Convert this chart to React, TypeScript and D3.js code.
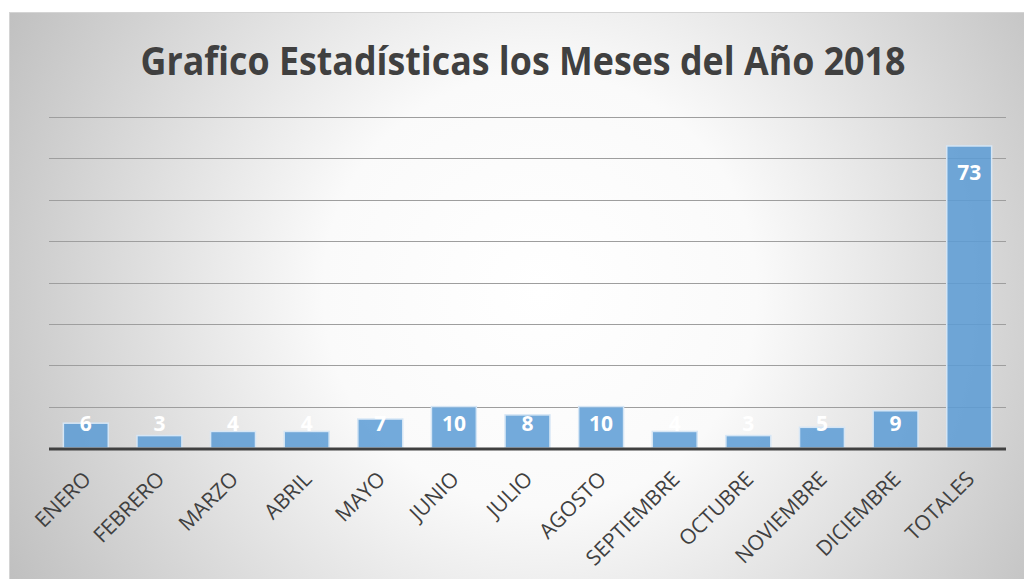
import React, { useEffect, useRef } from 'react';
import * as d3 from 'd3';

const months = ['ENERO', 'FEBRERO', 'MARZO', 'ABRIL', 'MAYO', 'JUNIO', 'JULIO', 'AGOSTO', 'SEPTIEMBRE', 'OCTUBRE', 'NOVIEMBRE', 'DICIEMBRE', 'TOTALES'];
const counts = [6, 3, 4, 4, 7, 10, 8, 10, 4, 3, 5, 9, 73];
const gridTicks = [10, 20, 30, 40, 50, 60, 70, 80];
const title = 'Grafico Estadísticas los Meses del Año 2018';

const W = 1024;
const H = 579;

export default function App() {
  const ref = useRef<SVGSVGElement>(null);

  useEffect(() => {
    const svg = d3.select(ref.current);
    svg.selectAll('*').remove();

    const defs = svg.append('defs');
    const grad = defs.append('radialGradient')
      .attr('id', 'bg')
      .attr('gradientUnits', 'userSpaceOnUse')
      .attr('cx', 540).attr('cy', 290).attr('r', 620);
    grad.append('stop').attr('offset', '0%').attr('stop-color', '#ffffff');
    grad.append('stop').attr('offset', '35%').attr('stop-color', '#fafafa');
    grad.append('stop').attr('offset', '100%').attr('stop-color', '#bdbdbd');

    svg.append('rect').attr('width', W).attr('height', H).attr('fill', '#ffffff');
    svg.append('rect')
      .attr('x', 9.5).attr('y', 12.5)
      .attr('width', W).attr('height', H)
      .attr('fill', 'url(#bg)')
      .attr('stroke', '#d4d4d4');

    const x = d3.scaleBand<string>()
      .domain(months)
      .range([49, 1006])
      .paddingInner(0.39)
      .paddingOuter(0.195);

    const y = d3.scaleLinear().domain([0, 80]).range([448, 117]);

    // title
    svg.append('text')
      .attr('x', 523).attr('y', 75)
      .attr('text-anchor', 'middle')
      .attr('font-family', 'Open Sans')
      .attr('font-weight', 700)
      .attr('font-size', 40)
      .attr('fill', '#404040')
      .attr('textLength', 765)
      .attr('lengthAdjust', 'spacingAndGlyphs')
      .text(title);

    // gridlines
    svg.append('g')
      .selectAll('line')
      .data(gridTicks)
      .join('line')
      .attr('x1', 49).attr('x2', 1006)
      .attr('y1', d => Math.round(y(d)) + 0.5)
      .attr('y2', d => Math.round(y(d)) + 0.5)
      .attr('stroke', '#9e9e9e')
      .attr('stroke-width', 1);

    // bars
    svg.append('g')
      .selectAll('rect')
      .data(counts)
      .join('rect')
      .attr('x', (d, i) => x(months[i]) || 0)
      .attr('y', d => y(d))
      .attr('width', x.bandwidth())
      .attr('height', d => y(0) - y(d))
      .attr('fill', '#5b9bd5')
      .attr('fill-opacity', 0.85)
      .attr('stroke', '#d6e6f5')
      .attr('stroke-width', 1.5);

    // baseline
    svg.append('line')
      .attr('x1', 49).attr('x2', 1006)
      .attr('y1', y(0) + 1).attr('y2', y(0) + 1)
      .attr('stroke', '#404040')
      .attr('stroke-width', 3);

    // value labels
    svg.append('g')
      .selectAll('text')
      .data(counts)
      .join('text')
      .attr('x', (d, i) => (x(months[i]) || 0) + x.bandwidth() / 2)
      .attr('y', d => Math.min(y(d) + 34, y(0) - 17))
      .attr('text-anchor', 'middle')
      .attr('font-family', 'Open Sans')
      .attr('font-weight', 700)
      .attr('font-size', 21)
      .attr('fill', '#ffffff')
      .text(d => d);

    // category labels
    svg.append('g')
      .selectAll('text')
      .data(months)
      .join('text')
      .attr('transform', d => `translate(${(x(d) || 0) + x.bandwidth() / 2 - 4},${y(0) + 22}) rotate(-45)`)
      .attr('text-anchor', 'end')
      .attr('dy', '0.7em')
      .attr('font-family', 'Open Sans')
      .attr('font-size', 21)
      .attr('fill', '#404040')
      .text(d => d);
  }, []);

  return (
    <svg ref={ref} width={W} height={H}
      style={{ position: 'absolute', left: 0, top: 0, display: 'block' }} />
  );
}
